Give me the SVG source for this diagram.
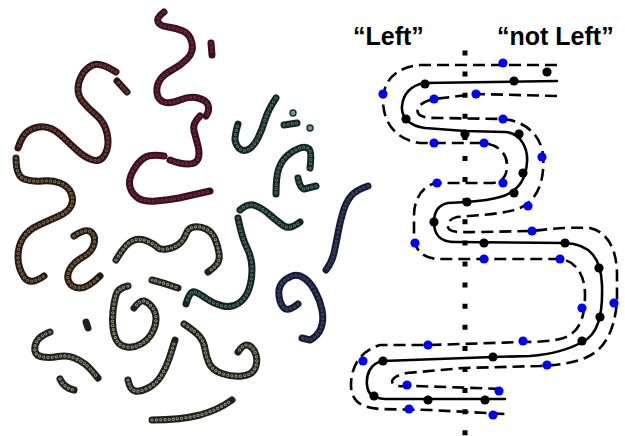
<svg xmlns="http://www.w3.org/2000/svg" xmlns:xlink="http://www.w3.org/1999/xlink" width="625" height="436" viewBox="0 0 625 436">
<style>
.base{fill:none;stroke-width:7;stroke-linecap:round;stroke-linejoin:round}
.bead{fill:none;stroke-width:3.2;stroke-linecap:round;stroke-dasharray:0 4.2}
.hole{fill:none;stroke-width:1.6;stroke-linecap:round;stroke-dasharray:0 4.2}
.solid{fill:none;stroke:#000;stroke-width:2.6;stroke-linecap:round}
.dash{fill:none;stroke:#000;stroke-width:2.6;stroke-dasharray:12 6}
.vdot{fill:none;stroke:#000;stroke-width:5;stroke-dasharray:5 16.1}
.k{fill:#000}
.bl{fill:#0000ff}
.lbl{font-family:"Liberation Sans",Arial,sans-serif;font-weight:bold;font-size:25px;fill:#000}
</style>
<defs>
<path id="A1" d="M127,92 L117,81"/>
<path id="A2" d="M116,72 Q100,62 93,65 Q86,68 82,75 Q78,82 78,89 Q78,96 83,102 Q88,108 95,114 Q102,120 105,127 Q108,134 108,142 Q108,150 104,156 Q100,162 93,160 Q86,158 79,152 Q72,146 65,139 Q58,132 52,129 Q46,126 39,127 Q32,128 27,132 Q22,136 18,148"/>
<path id="B" d="M16,158 Q16,176 24,179 Q32,182 42,181 Q52,180 60,183 Q68,186 71,193 Q74,200 71,206 Q68,212 59,216 Q50,220 39,225 Q28,230 23,238 Q18,246 18,257 Q18,268 24,277 Q30,286 44,276"/>
<path id="C" d="M74,236 Q86,228 91,232 Q96,236 94,244 Q92,252 83,257 Q74,262 70,269 Q66,276 69,282 Q72,288 80,288 Q88,288 100,276"/>
<path id="D1" d="M164,12 Q156,18 158,22 Q160,26 168,27 Q176,28 183,31 Q190,34 192,43 Q194,52 187,59 Q180,66 172,70 Q164,74 160,80 Q156,86 157,93 Q158,100 164,102 Q170,104 180,100 Q190,96 198,98 Q206,100 208,105 Q210,110 206,116"/>
<path id="D2" d="M200,116 Q192,124 194,131 Q196,138 198,146 Q200,154 198,159 Q196,164 188,164 Q180,164 170,160"/>
<path id="D3" d="M164,156 Q150,154 144,158 Q138,162 133,171 Q128,180 130,187 Q132,194 138,198 Q144,202 156,201 Q168,200 179,198 L210,191"/>
<path id="D4" d="M211,43 L212,55"/>
<path id="E" d="M276,98 Q268,110 265,120 Q262,130 258,138 Q254,146 249,149 Q244,152 240,149 Q236,146 235,140 Q235,134 238,124"/>
<path id="E2" d="M284,125 L297,123"/>
<path id="F" d="M310,168 Q312,152 309,149 Q306,146 300,148 Q294,150 288,155 Q282,160 279,168 Q276,176 276,194"/>
<path id="F2" d="M298,178 Q300,188 304,189 L316,186"/>
<path id="G" d="M240,210 Q248,203 255,205.5 Q262,208 270,215 Q278,222 284,226 Q290,230 300,222"/>
<path id="H" d="M238,218 Q242,238 247,248 Q252,258 252,269 Q252,280 249,289 Q246,298 239,303 Q232,308 223,306 Q214,304 207,299 Q200,294 195,292 Q190,290 186,304"/>
<path id="I" d="M368,186 Q356,190 351,196 Q346,202 343,212 Q340,222 338,233 Q336,244 334,253 Q332,262 326,270"/>
<path id="J" d="M298,304 Q288,312 284,308 Q280,304 279,296 Q278,288 282,283 Q286,278 292,276 Q298,274 304,278 Q310,282 315,291 Q320,300 322,310 Q324,320 321,328 Q318,336 310,340 L302,338"/>
<path id="K" d="M116,260 Q126,243 133,240.5 Q140,238 147,241 Q154,244 157,247 Q160,250 167,249 Q174,248 179,244 Q184,240 186,234 Q188,228 194,227 Q200,226 206,229 Q212,232 215,239 Q218,246 219,253 Q220,260 217,264 Q214,268 208,272"/>
<path id="K2" d="M152,280 Q164,283 178,288"/>
<path id="L" d="M128,286 Q118,288 116,295 Q114,302 113,311 Q112,320 113,328 Q114,336 117,341 Q120,346 127,347 Q134,348 141,344 Q148,340 152,333 Q156,326 156,319 Q156,312 152,307 Q148,302 144,301 Q140,300 134,308"/>
<path id="M" d="M50,332 Q40,336 37,341 Q34,346 35,351 Q36,356 43,357 Q50,358 58,356.5 Q66,355 73,357.5 Q80,360 85,364 Q90,368 98,378"/>
<path id="M2" d="M86,322 L88,328"/>
<path id="M3" d="M60,379 Q64,388 74,390"/>
<path id="N" d="M128,380 Q130,390 135,391 Q140,392 148,388 Q156,384 161,376 Q166,368 169,359 Q172,350 175,340"/>
<path id="O" d="M152,420 Q180,420 200,415 Q218,410 232,400"/>
<path id="P" d="M184,324 Q196,332 200,337 Q204,342 205,349 Q206,356 209,363 Q212,370 222,373.5 Q232,377 242,376 Q252,375 255,368.5 Q258,362 256,355 Q254,348 249,345.5 Q244,343 238,352"/>
</defs>

<g id="chromosomes">
  <g id="fam-red">
    <g class="base" stroke="#2c1414"><use xlink:href="#A1"/><use xlink:href="#A2"/></g>
    <g class="bead" stroke="#8a5048"><use xlink:href="#A1"/><use xlink:href="#A2"/></g>
    <g class="hole" stroke="#2c1414"><use xlink:href="#A1"/><use xlink:href="#A2"/></g>
  </g>
  <g id="fam-brown">
    <g class="base" stroke="#241a12"><use xlink:href="#B"/><use xlink:href="#C"/></g>
    <g class="bead" stroke="#94785a"><use xlink:href="#B"/><use xlink:href="#C"/></g>
    <g class="hole" stroke="#241a12"><use xlink:href="#B"/><use xlink:href="#C"/></g>
  </g>
  <g id="fam-maroon">
    <g class="base" stroke="#380e20"><use xlink:href="#D1"/><use xlink:href="#D2"/><use xlink:href="#D3"/><use xlink:href="#D4"/></g>
    <g class="bead" stroke="#7e3048"><use xlink:href="#D1"/><use xlink:href="#D2"/><use xlink:href="#D3"/><use xlink:href="#D4"/></g>
    <g class="hole" stroke="#380e20"><use xlink:href="#D1"/><use xlink:href="#D2"/><use xlink:href="#D3"/><use xlink:href="#D4"/></g>
  </g>
  <g id="fam-teal">
    <g class="base" stroke="#152222"><use xlink:href="#E"/><use xlink:href="#E2"/><use xlink:href="#F"/><use xlink:href="#F2"/><use xlink:href="#G"/><use xlink:href="#H"/></g>
    <g class="bead" stroke="#52807c"><use xlink:href="#E"/><use xlink:href="#E2"/><use xlink:href="#F"/><use xlink:href="#F2"/><use xlink:href="#G"/><use xlink:href="#H"/></g>
    <g class="hole" stroke="#152222"><use xlink:href="#E"/><use xlink:href="#E2"/><use xlink:href="#F"/><use xlink:href="#F2"/><use xlink:href="#G"/><use xlink:href="#H"/></g>
    <circle cx="293" cy="113" r="3" fill="#6e9c98" stroke="#1a2a2a" stroke-width="1.4"/>
    <circle cx="310" cy="128" r="3" fill="#6e9c98" stroke="#1a2a2a" stroke-width="1.4"/>
  </g>
  <g id="fam-navy">
    <g class="base" stroke="#161a30"><use xlink:href="#I"/><use xlink:href="#J"/></g>
    <g class="bead" stroke="#45527e"><use xlink:href="#I"/><use xlink:href="#J"/></g>
    <g class="hole" stroke="#161a30"><use xlink:href="#I"/><use xlink:href="#J"/></g>
  </g>
  <g id="fam-grey">
    <g class="base" stroke="#1e201a"><use xlink:href="#K"/><use xlink:href="#K2"/><use xlink:href="#L"/><use xlink:href="#M"/><use xlink:href="#M2"/><use xlink:href="#M3"/><use xlink:href="#N"/><use xlink:href="#O"/><use xlink:href="#P"/></g>
    <g class="bead" stroke="#a8a890"><use xlink:href="#K"/><use xlink:href="#K2"/><use xlink:href="#L"/><use xlink:href="#M"/><use xlink:href="#M3"/><use xlink:href="#N"/><use xlink:href="#O"/><use xlink:href="#P"/></g>
    <g class="hole" stroke="#1e201a"><use xlink:href="#K"/><use xlink:href="#K2"/><use xlink:href="#L"/><use xlink:href="#M"/><use xlink:href="#M3"/><use xlink:href="#N"/><use xlink:href="#O"/><use xlink:href="#P"/></g>
  </g>
</g>

<g id="labels">
  <text id="label-left" class="lbl" x="353" y="45">“Left”</text>
  <text id="label-notleft" class="lbl" x="497" y="45">“not Left”</text>
</g>

<g id="connectors">
  <path id="divider" class="vdot" d="M465,50.5 L465,436"/>
  <path id="strand" class="solid" d="M557,81 L425,83 C410,85 403,95 402,106 C401,118 410,126 425,128 L465,131 L505,132 C522,133 528,150 527,162 C526,180 518,192 500,197 C490,200 480,201 467,202 L448,203 C438,205 434,212 434,222 C434,235 440,242 455,242 L565,243 C590,244 601,258 602,285 C603,315 598,335 582,342 C570,349 555,354 530,356 L493,357 L383,361 C370,363 366,375 367,385 C368,394 372,398 385,399 L505,399"/>
  <path id="side-a" class="dash" d="M557,65 L420,65 C395,67 383,82 383,100 C383,125 398,140 420,143 L484,143 C500,145 507,155 507,165 C507,177 502,183 490,183 L437,183 C422,185 414,200 414,215 L414,235 C414,250 423,259 440,259 L560,259 C578,261 585,278 585,295 C585,320 578,335 560,339 C545,342 530,342 523,342 L430,345 L380,345 C362,350 351,365 351,385 C351,400 360,408 380,409 L430,410 L505,414"/>
  <path id="side-b" class="dash" d="M557,96 L476,94 L434,99 C420,102 416,108 418,113 C421,118 430,118 440,118 L503,119 C525,121 541,135 543,155 C545,180 538,200 520,208 C505,214 480,215 457,217 C448,219 445,226 450,230 C455,233 465,232 480,232 L532,231 C550,229 565,227 590,228 C608,232 617,250 617,275 L617,300 C615,330 605,350 585,358 C570,364 555,365 540,366 L463,368 L407,373 C392,376 389,382 395,385 C400,387 405,386 415,386 L505,389"/>
</g>

<g id="black-dots" class="k">
  <circle cx="547" cy="72" r="4.6"/>
  <circle cx="514" cy="81" r="4.6"/>
  <circle cx="425" cy="84" r="4.6"/>
  <circle cx="406" cy="119" r="4.6"/>
  <circle cx="465" cy="134" r="4.6"/>
  <circle cx="519" cy="134" r="4.6"/>
  <circle cx="523" cy="173" r="4.6"/>
  <circle cx="514" cy="193" r="4.6"/>
  <circle cx="467" cy="202" r="4.6"/>
  <circle cx="434" cy="222" r="4.6"/>
  <circle cx="484" cy="243" r="4.6"/>
  <circle cx="565" cy="243" r="4.6"/>
  <circle cx="599" cy="268" r="4.6"/>
  <circle cx="600" cy="317" r="4.6"/>
  <circle cx="582" cy="341" r="4.6"/>
  <circle cx="493" cy="357" r="4.6"/>
  <circle cx="383" cy="361" r="4.6"/>
  <circle cx="374" cy="396" r="4.6"/>
  <circle cx="428" cy="400" r="4.6"/>
  <circle cx="485" cy="400" r="4.6"/>
</g>

<g id="blue-dots" class="bl">
  <circle cx="503" cy="63" r="4.6"/>
  <circle cx="383" cy="94" r="4.6"/>
  <circle cx="476" cy="94" r="4.6"/>
  <circle cx="434" cy="99" r="4.6"/>
  <circle cx="503" cy="119" r="4.6"/>
  <circle cx="434" cy="143" r="4.6"/>
  <circle cx="484" cy="143" r="4.6"/>
  <circle cx="542" cy="157" r="4.6"/>
  <circle cx="437" cy="183" r="4.6"/>
  <circle cx="503" cy="183" r="4.6"/>
  <circle cx="528" cy="206" r="4.6"/>
  <circle cx="532" cy="231" r="4.6"/>
  <circle cx="415" cy="243" r="4.6"/>
  <circle cx="484" cy="259" r="4.6"/>
  <circle cx="560" cy="259" r="4.6"/>
  <circle cx="614" cy="303" r="4.6"/>
  <circle cx="582" cy="308" r="4.6"/>
  <circle cx="523" cy="341" r="4.6"/>
  <circle cx="428" cy="345" r="4.6"/>
  <circle cx="363" cy="361" r="4.6"/>
  <circle cx="547" cy="365" r="4.6"/>
  <circle cx="407" cy="385" r="4.6"/>
  <circle cx="499" cy="391" r="4.6"/>
  <circle cx="409" cy="409" r="4.6"/>
  <circle cx="493" cy="415" r="4.6"/>
</g>
</svg>
